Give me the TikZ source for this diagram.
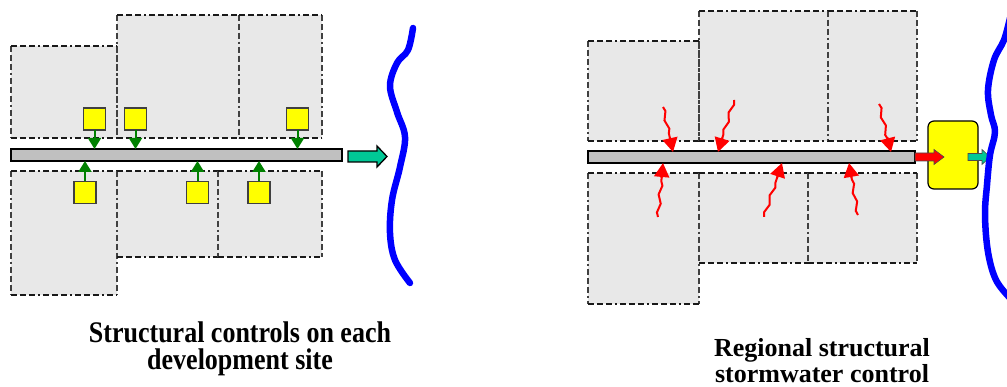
\documentclass[tikz,border=0pt]{standalone}
\usepackage{fontspec}
\setmainfont{Liberation Serif}
\usetikzlibrary{arrows.meta,decorations.pathmorphing,calc}
\definecolor{lot}{HTML}{E8E8E8}
\definecolor{pipegray}{HTML}{C0C0C0}
\definecolor{tealgreen}{HTML}{00C896}
\definecolor{darkgreen}{HTML}{008000}
\definecolor{pureblue}{HTML}{0000FF}
\definecolor{pureyellow}{HTML}{FFFF00}
\definecolor{purered}{HTML}{FF0000}
\tikzset{
  lotfill/.style={fill=lot},
  hedge/.style={draw=black!90, line width=2.2pt, dash pattern=on 6pt off 3pt on 6pt off 3pt on 6pt off 3pt on 2pt off 3pt},
  vedge/.style={draw=black!75, line width=1.2pt, dash pattern=on 6pt off 3pt on 6pt off 3pt on 6pt off 3pt on 2pt off 3pt},
  pipe/.style={draw=black, line width=1.2pt, fill=pipegray, inner sep=0pt, outer sep=0pt, minimum height=12pt},
  sq/.style={draw=black!75, line width=1.2pt, fill=pureyellow, inner sep=0pt, outer sep=0pt, minimum size=22pt},
  garrow/.style={draw=darkgreen, line width=2pt, -{Triangle[width=13pt,length=11pt]}},
  redjag/.style={draw=purered, line width=2pt, decorate, decoration={zigzag, segment length=18pt, amplitude=1.5pt}},
  redhead/.style={draw=purered, line width=2pt, -{Triangle[width=15pt,length=14pt]}},
  blockarrow/.style={draw=black, line width=1.3pt, line join=miter},
  river/.style={draw=pureblue, line width=6.5pt, line cap=round, line join=round},
  basin/.style={draw=black, line width=1.2pt, fill=pureyellow, rounded corners=6pt, inner sep=0pt, outer sep=0pt, minimum width=50pt, minimum height=68pt},
  lbl/.style={font=\fontsize{26}{30}\selectfont\bfseries, inner sep=0pt, anchor=base}
}
\begin{document}
\begin{tikzpicture}[x=1pt,y=-1pt]
\useasboundingbox (0,0) rectangle (1007,387);

% ---------- parcels (both panels) ----------
\foreach \a/\b/\c/\d in {11/46/117/138, 117/15/239/138, 239/15/322/138,
  11/171/117/295, 117/171/218/257, 218/171/322/257,
  588/41/699/141, 699/11/828/141, 828/11/917/141,
  588/173/699/304, 699/173/808/263, 808/173/917/263}{
  \fill[lotfill] (\a,\b) rectangle (\c,\d);
}
\foreach \a/\b/\c/\d in {11/46/117/138, 117/15/239/138, 239/15/322/138,
  11/171/117/295, 117/171/218/257, 218/171/322/257,
  588/41/699/141, 699/11/828/141, 828/11/917/141,
  588/173/699/304, 699/173/808/263, 808/173/917/263}{
  \draw[vedge] (\a,\b) -- (\a,\d) (\c,\b) -- (\c,\d);
  \draw[hedge] (\a,\b) -- (\c,\b) (\a,\d) -- (\c,\d);
}

% ---------- left panel: pipe, controls ----------
\node[pipe, minimum width=331pt] (pipeL) at (176.5,155) {};

\node[sq] (t1) at (94.5,119) {};
\node[sq] (t2) at (135.5,119) {};
\node[sq] (t3) at (297.5,119) {};
\node[sq] (b1) at (85,192.5) {};
\node[sq] (b2) at (197.5,192.5) {};
\node[sq] (b3) at (259,192.5) {};

\foreach \n in {t1,t2,t3}{
  \draw[garrow] (\n.south) -- (\n.south |- pipeL.north);
}
\foreach \n in {b1,b2,b3}{
  \draw[garrow] (\n.north) -- (\n.north |- pipeL.south);
}

% outflow arrow (left)
\coordinate (oL) at (348,156.5);
\filldraw[blockarrow, fill=tealgreen] (oL) ++(0,-5.5) -- ++(29,0) -- ++(0,-5) -- (387,156.5)
  -- (377,167) -- ++(0,-5) -- (348,162) -- cycle;

% stream (left)
\draw[river] plot[smooth, tension=0.6] coordinates {(413,28) (408,50) (397,63) (390,86) (397,112) (405,137) (400,167) (392,200) (390,233) (395,260) (410,283)};

% ---------- right panel ----------
\node[pipe, minimum width=327pt] (pipeR) at (751.5,157) {};

\coordinate (r1s) at (663,107); \coordinate (r1e) at (673,152);
\coordinate (r2s) at (734,100); \coordinate (r2e) at (718,152);
\coordinate (r3s) at (879,104); \coordinate (r3e) at (891,152);
\coordinate (r4s) at (658,217); \coordinate (r4e) at (663,163);
\coordinate (r5s) at (764,217); \coordinate (r5e) at (782,163);
\coordinate (r6s) at (858,215); \coordinate (r6e) at (849,163);
\foreach \i in {1,...,6}{
  \draw[redjag] (r\i s) -- ($(r\i e)!13pt!(r\i s)$);
  \draw[redhead] ($(r\i e)!15pt!(r\i s)$) -- (r\i e);
}

\node[basin] (basin) at (953,155) {};

% red inflow arrow into basin
\filldraw[draw=black!70, line width=0.6pt, fill=purered] (pipeR.east) ++(0,-4) -- (934,153) -- (934,149.5) -- (944,157) -- (934,164.5) -- (934,161) -- (915,161) -- cycle;
% teal outflow from basin
\filldraw[draw=black!70, line width=0.6pt, fill=tealgreen] (968,153.5) -- (982,153.5) -- (982,149.5) -- (990,157) -- (982,164.5) -- (982,160.5) -- (968,160.5) -- cycle;

% stream (right)
\draw[river] plot[smooth, tension=0.6] coordinates {(1010,18) (1004,40) (994,60) (988,90) (991,115) (995,132) (990,155) (987,185) (985,215) (988,252) (996,280) (1010,298)};

% ---------- captions ----------
\node[lbl] (capL1) at (240,343) {\scalebox{1}[1.15]{Structural controls on each}};
\node[lbl] (capL2) at (240,370) {\scalebox{1}[1.15]{development site}};
\node[lbl] (capR1) at (822,357) {Regional structural};
\node[lbl] (capR2) at (822,382) {stormwater control};
\end{tikzpicture}
\end{document}
